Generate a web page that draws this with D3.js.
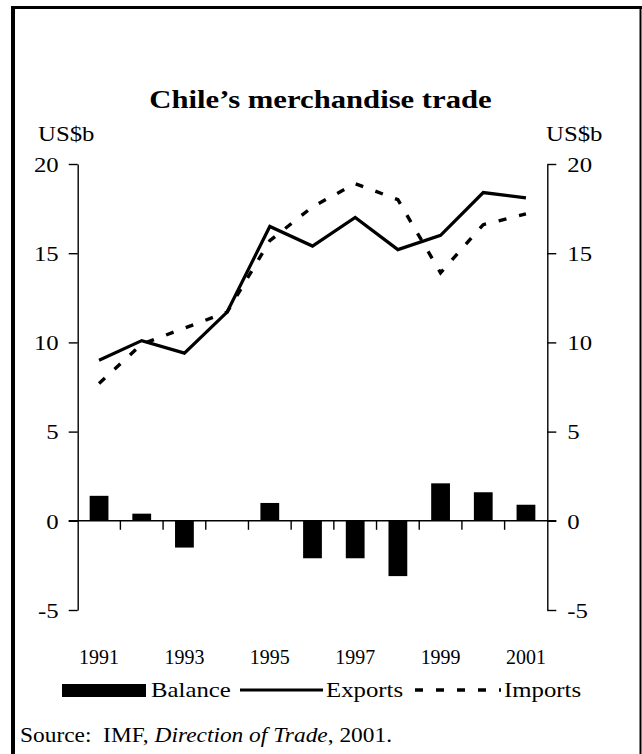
<!DOCTYPE html>
<html>
<head>
<meta charset="utf-8">
<script src="https://cdn.jsdelivr.net/npm/d3@7"></script>
<style>
  body { margin: 0; background: #fff; }
  svg text { font-family: "Liberation Serif", "Times New Roman", serif; fill: #000; }
</style>
</head>
<body>
<div id="chart"></div>
<script>
// chart data (US$ billions)
const years = [1991, 1992, 1993, 1994, 1995, 1996, 1997, 1998, 1999, 2000, 2001]
const exportsData = [9.0, 10.1, 9.4, 11.7, 16.5, 15.4, 17.0, 15.2, 16.0, 18.4, 18.1]
const importsData = [7.7, 9.9, 10.8, 11.7, 15.7, 17.6, 18.9, 18.0, 13.9, 16.6, 17.2]
const balanceData = [1.4, 0.4, -1.5, 0, 1.0, -2.1, -2.1, -3.1, 2.1, 1.6, 0.9]
const yTicks = [-5, 0, 5, 10, 15, 20]
const yearLabels = [1991, 1993, 1995, 1997, 1999, 2001]
const legendLabels = ["Balance", "Exports", "Imports"]

// defaults for the chart
const width = 642
const height = 754
const plotLeft = 77.7
const plotRight = 547.3
const plotTop = 164
const plotBottom = 610
const tickLen = 9
const stretch = 1.18   // the original text is a little wider than normal
const title = "Chile\u2019s merchandise trade"

const chart = d3.select('#chart')
  .append('svg')
  .attr('width', width)
  .attr('height', height)

const xScale = d3.scaleBand()
  .domain(years)
  .range([plotLeft, plotRight])
  .paddingInner(0.56)
  .paddingOuter(0.28)

const yScale = d3.scaleLinear()
  .domain([-5, 20])
  .range([plotBottom, plotTop])

const cx = d => xScale(d) + xScale.bandwidth() / 2

// small helper: text stretched sideways like the source
const addText = function (x, y, str, size, anchor, sx) {
  return chart.append('text')
    .attr('transform', 'translate(' + x + ',' + y + ') scale(' + (sx || stretch) + ',1)')
    .attr('text-anchor', anchor || 'start')
    .style('font-size', size + 'px')
    .text(str)
}

const drawFrame = function () {
  chart.append('rect').attr('x', 11).attr('y', 6).attr('width', 631).attr('height', 3)
  chart.append('rect').attr('x', 11).attr('y', 6).attr('width', 4).attr('height', height)
  chart.append('rect').attr('x', 639.5).attr('y', 6).attr('width', 2).attr('height', height)
}

const drawAxis = function () {
  // plain hyphen for the minus sign, like the source
  const fmt = d => String(d)
  const yLeft = d3.axisLeft(yScale).tickValues(yTicks).tickFormat(fmt).tickSize(tickLen).tickSizeOuter(0)
  const yRight = d3.axisRight(yScale).tickValues(yTicks).tickFormat(fmt).tickSize(tickLen).tickSizeOuter(0)

  const gl = chart.append('g')
    .attr('transform', 'translate(' + plotLeft + ',0)')
    .call(yLeft)
  gl.selectAll('text')
    .attr('x', null).attr('dy', '0.35em')
    .attr('transform', 'translate(' + (-19) + ',0) scale(' + stretch + ',1)')

  const gr = chart.append('g')
    .attr('transform', 'translate(' + plotRight + ',0)')
    .call(yRight)
  gr.selectAll('text')
    .attr('x', null).attr('dy', '0.35em')
    .attr('transform', 'translate(' + 20 + ',0) scale(' + stretch + ',1)')

  chart.selectAll('.domain, .tick line').attr('stroke', '#000').attr('stroke-width', 1.4)
  chart.selectAll('.tick text')
    .attr('fill', '#000')
    .style('font-size', '21px')
    .style('font-family', '"Liberation Serif", serif')

  // zero line with the year dividers under it
  const y0 = yScale(0)
  chart.append('line')
    .attr('x1', plotLeft - tickLen).attr('x2', plotRight + tickLen)
    .attr('y1', y0).attr('y2', y0)
    .attr('stroke', '#000').attr('stroke-width', 1.4)

  const half = xScale.step() * xScale.paddingInner() / 2
  chart.selectAll('.divider')
    .data(years.slice(1))
    .enter().append('line')
    .attr('class', 'divider')
    .attr('x1', d => xScale(d) - half).attr('x2', d => xScale(d) - half)
    .attr('y1', y0).attr('y2', y0 + tickLen)
    .attr('stroke', '#000').attr('stroke-width', 1.4)

  yearLabels.forEach(yr => addText(cx(yr), 664, yr, 21, 'middle', 0.95))

  addText(38, 141, 'US$b', 21)
  addText(546, 141, 'US$b', 21)
}

const drawChart = function () {
  // balance bars
  chart.selectAll('.bar')
    .data(years)
    .enter().append('rect')
    .attr('class', 'bar')
    .attr('x', d => xScale(d))
    .attr('width', xScale.bandwidth())
    .attr('y', (d, i) => yScale(Math.max(0, balanceData[i])))
    .attr('height', (d, i) => Math.abs(yScale(balanceData[i]) - yScale(0)))
    .attr('fill', '#000')

  const line = values => d3.line()
    .x(d => cx(d))
    .y((d, i) => yScale(values[i]))(years)

  chart.append('path')
    .attr('d', line(importsData))
    .attr('fill', 'none')
    .attr('stroke', '#000')
    .attr('stroke-width', 3.4)
    .attr('stroke-dasharray', '8,13')

  chart.append('path')
    .attr('d', line(exportsData))
    .attr('fill', 'none')
    .attr('stroke', '#000')
    .attr('stroke-width', 3.2)
    .attr('stroke-linejoin', 'miter')
}

const drawLegend = function () {
  const ly = 690
  chart.append('rect')
    .attr('x', 62).attr('y', ly - 6).attr('width', 84).attr('height', 13)
    .attr('fill', '#000')
  addText(151, 697, legendLabels[0], 21)

  chart.append('line')
    .attr('x1', 240).attr('x2', 323).attr('y1', ly).attr('y2', ly)
    .attr('stroke', '#000').attr('stroke-width', 3.2)
  addText(326, 697, legendLabels[1], 21)

  chart.append('line')
    .attr('x1', 415).attr('x2', 501).attr('y1', ly).attr('y2', ly)
    .attr('stroke', '#000').attr('stroke-width', 3.4)
    .attr('stroke-dasharray', '8,13')
  addText(504, 697, legendLabels[2], 21)
}

const drawTitles = function () {
  addText(320.5, 108, title, 26, 'middle').style('font-weight', 'bold')

  const src = addText(20, 742, '', 20, 'start', 1.17)
  src.append('tspan').text('Source:\u00a0\u00a0IMF, ')
  src.append('tspan').style('font-style', 'italic').text('Direction of Trade')
  src.append('tspan').text(', 2001.')
}

drawFrame()
drawChart()
drawAxis()
drawLegend()
drawTitles()
</script>
</body>
</html>
